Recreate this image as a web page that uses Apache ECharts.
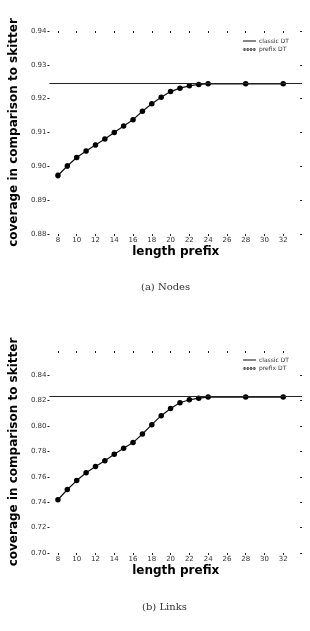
<!DOCTYPE html>
<html>
<head>
<meta charset="utf-8">
<script src="https://cdn.jsdelivr.net/npm/echarts@6/dist/echarts.min.js"></script>
<style>
  html, body { margin: 0; padding: 0; background: #fff; }
  #main { width: 310px; height: 631px; }
</style>
</head>
<body>
<div id="main"></div>
<script>
// prefix lengths on the x axis
const prefixLen = [8, 9, 10, 11, 12, 13, 14, 15, 16, 17, 18, 19, 20, 21, 22, 23, 24, 28, 32];
// (a) nodes
const nodesCov = [0.8973, 0.9001, 0.9026, 0.9045, 0.9063, 0.9081, 0.9100, 0.9119, 0.9138, 0.9163,
                  0.9185, 0.9204, 0.9221, 0.9231, 0.9238, 0.9242, 0.9244, 0.9244, 0.9244];
const nodesErr = [0.0007, 0.0006, 0.0006, 0.0005, 0.0005, 0.0004, 0.0004, 0.0003, 0.0003, 0.0002,
                  0.0002, 0.0002, 0.0001, 0.0001, 0.0001, 0.0001, 0.0001, 0.0001, 0.0001];
const classicNodes = 0.9245;
// (b) links
const linksCov = [0.7419, 0.7500, 0.7570, 0.7631, 0.7680, 0.7727, 0.7777, 0.7824, 0.7869, 0.7937,
                  0.8010, 0.8081, 0.8138, 0.8183, 0.8206, 0.8219, 0.8227, 0.8227, 0.8227];
const classicLinks = 0.8232;
// ticks
const xTicks = [8, 10, 12, 14, 16, 18, 20, 22, 24, 26, 28, 30, 32];
const nodesTicks = [0.88, 0.89, 0.90, 0.91, 0.92, 0.93, 0.94];
const linksTicks = [0.70, 0.72, 0.74, 0.76, 0.78, 0.80, 0.82, 0.84];

const font = 'DejaVu Sans';
const black = '#000';

function zip(xs, ys) {
    return xs.map((x, i) => [x, ys[i]]);
}

function xAxes(grid) {
    return [
        {
            gridIndex: grid, type: 'value', min: 7.1, max: 34, position: 'bottom',
            axisLine: { show: false }, splitLine: { show: false },
            axisTick: { show: true, length: 2, customValues: xTicks, lineStyle: { color: '#222' } },
            axisLabel: { customValues: xTicks, fontFamily: font, fontSize: 7, color: '#333', margin: 3 },
            name: 'length prefix', nameLocation: 'middle', nameGap: 12,
            nameTextStyle: { fontFamily: font, fontSize: 12, fontWeight: 'bold', color: black }
        },
        {
            gridIndex: grid, type: 'value', min: 7.1, max: 34, position: 'top',
            axisLine: { show: false }, splitLine: { show: false },
            axisTick: { show: true, length: 2, inside: true, customValues: xTicks, lineStyle: { color: '#222' } },
            axisLabel: { show: false }
        }
    ];
}

function yAxes(grid, min, max, ticks) {
    return [
        {
            gridIndex: grid, type: 'value', min: min, max: max, position: 'left',
            axisLine: { show: false }, splitLine: { show: false },
            axisTick: { show: true, length: 2, customValues: ticks, lineStyle: { color: '#222' } },
            axisLabel: {
                customValues: ticks, fontFamily: font, fontSize: 7, color: '#333', margin: 3,
                formatter: v => v.toFixed(2)
            },
            name: 'coverage in comparison to skitter', nameLocation: 'middle', nameRotate: 90, nameGap: 21,
            nameTextStyle: { fontFamily: font, fontSize: 12, fontWeight: 'bold', color: black }
        },
        {
            gridIndex: grid, type: 'value', min: min, max: max, position: 'right',
            axisLine: { show: false }, splitLine: { show: false },
            axisTick: { show: true, length: 2, inside: true, customValues: ticks, lineStyle: { color: '#222' } },
            axisLabel: { show: false }
        }
    ];
}

function errorBars(params, api) {
    const x = api.value(0), y = api.value(1), e = api.value(2);
    const top = api.coord([x, y + e]);
    const bot = api.coord([x, y - e]);
    const style = { stroke: '#222', lineWidth: 1 };
    return {
        type: 'group',
        children: [
            { type: 'line', shape: { x1: top[0], y1: top[1], x2: bot[0], y2: bot[1] }, style: style },
            { type: 'line', shape: { x1: top[0] - 1.5, y1: top[1], x2: top[0] + 1.5, y2: top[1] }, style: style },
            { type: 'line', shape: { x1: bot[0] - 1.5, y1: bot[1], x2: bot[0] + 1.5, y2: bot[1] }, style: style }
        ]
    };
}

function seriesFor(grid, values, classic) {
    const ax = grid * 2;
    return [
        {
            name: 'classic DT', type: 'line', xAxisIndex: ax, yAxisIndex: ax,
            data: [], symbol: 'none', color: '#222',
            markLine: {
                silent: true, symbol: 'none', label: { show: false }, precision: 5,
                lineStyle: { color: '#222', width: 1, type: 'solid' },
                data: [{ yAxis: classic }]
            }
        },
        {
            name: 'prefix DT', type: 'line', xAxisIndex: ax, yAxisIndex: ax,
            data: zip(prefixLen, values), symbol: 'circle', symbolSize: 5.5,
            itemStyle: { color: black }, lineStyle: { color: '#111', width: 1.2 }
        }
    ];
}

const dotsIcon = 'path://M0,4.4h40v1.2h-40z' +
    'M1,5a4,4 0 1,0 8,0a4,4 0 1,0 -8,0' +
    'M11,5a4,4 0 1,0 8,0a4,4 0 1,0 -8,0' +
    'M21,5a4,4 0 1,0 8,0a4,4 0 1,0 -8,0' +
    'M31,5a4,4 0 1,0 8,0a4,4 0 1,0 -8,0';

function legendAt(top) {
    return {
        top: top, right: 16, orient: 'vertical', itemWidth: 13, itemHeight: 3.5, itemGap: 2.5,
        textStyle: { fontFamily: font, fontSize: 6, color: '#333', padding: [0, 0, 0, -2] },
        data: [
            { name: 'classic DT', icon: 'path://M0,3.3h40v3.4h-40z', itemStyle: { color: '#222' } },
            { name: 'prefix DT', icon: dotsIcon }
        ]
    };
}

const chart = echarts.init(document.getElementById('main'));
chart.setOption({
    animation: false,
    backgroundColor: '#fff',
    title: [
        { text: '(a) Nodes', left: 136, top: 277, textStyle: { fontFamily: 'DejaVu Serif', fontSize: 10, fontWeight: 'normal', color: '#333' } },
        { text: '(b) Links', left: 137, top: 597, textStyle: { fontFamily: 'DejaVu Serif', fontSize: 10, fontWeight: 'normal', color: '#333' } }
    ],
    legend: [legendAt(33), legendAt(352)],
    grid: [
        { left: 40, top: 31, width: 262, height: 203 },
        { left: 40, top: 351, width: 262, height: 202 }
    ],
    xAxis: xAxes(0).concat(xAxes(1)),
    yAxis: yAxes(0, 0.88, 0.94, nodesTicks).concat(yAxes(1, 0.70, 0.859, linksTicks)),
    series: seriesFor(0, nodesCov, classicNodes)
        .concat([{
            type: 'custom', xAxisIndex: 0, yAxisIndex: 0,
            data: prefixLen.map((x, i) => [x, nodesCov[i], nodesErr[i]]),
            renderItem: errorBars, silent: true, z: 1
        }])
        .concat(seriesFor(1, linksCov, classicLinks))
});
</script>
</body>
</html>
